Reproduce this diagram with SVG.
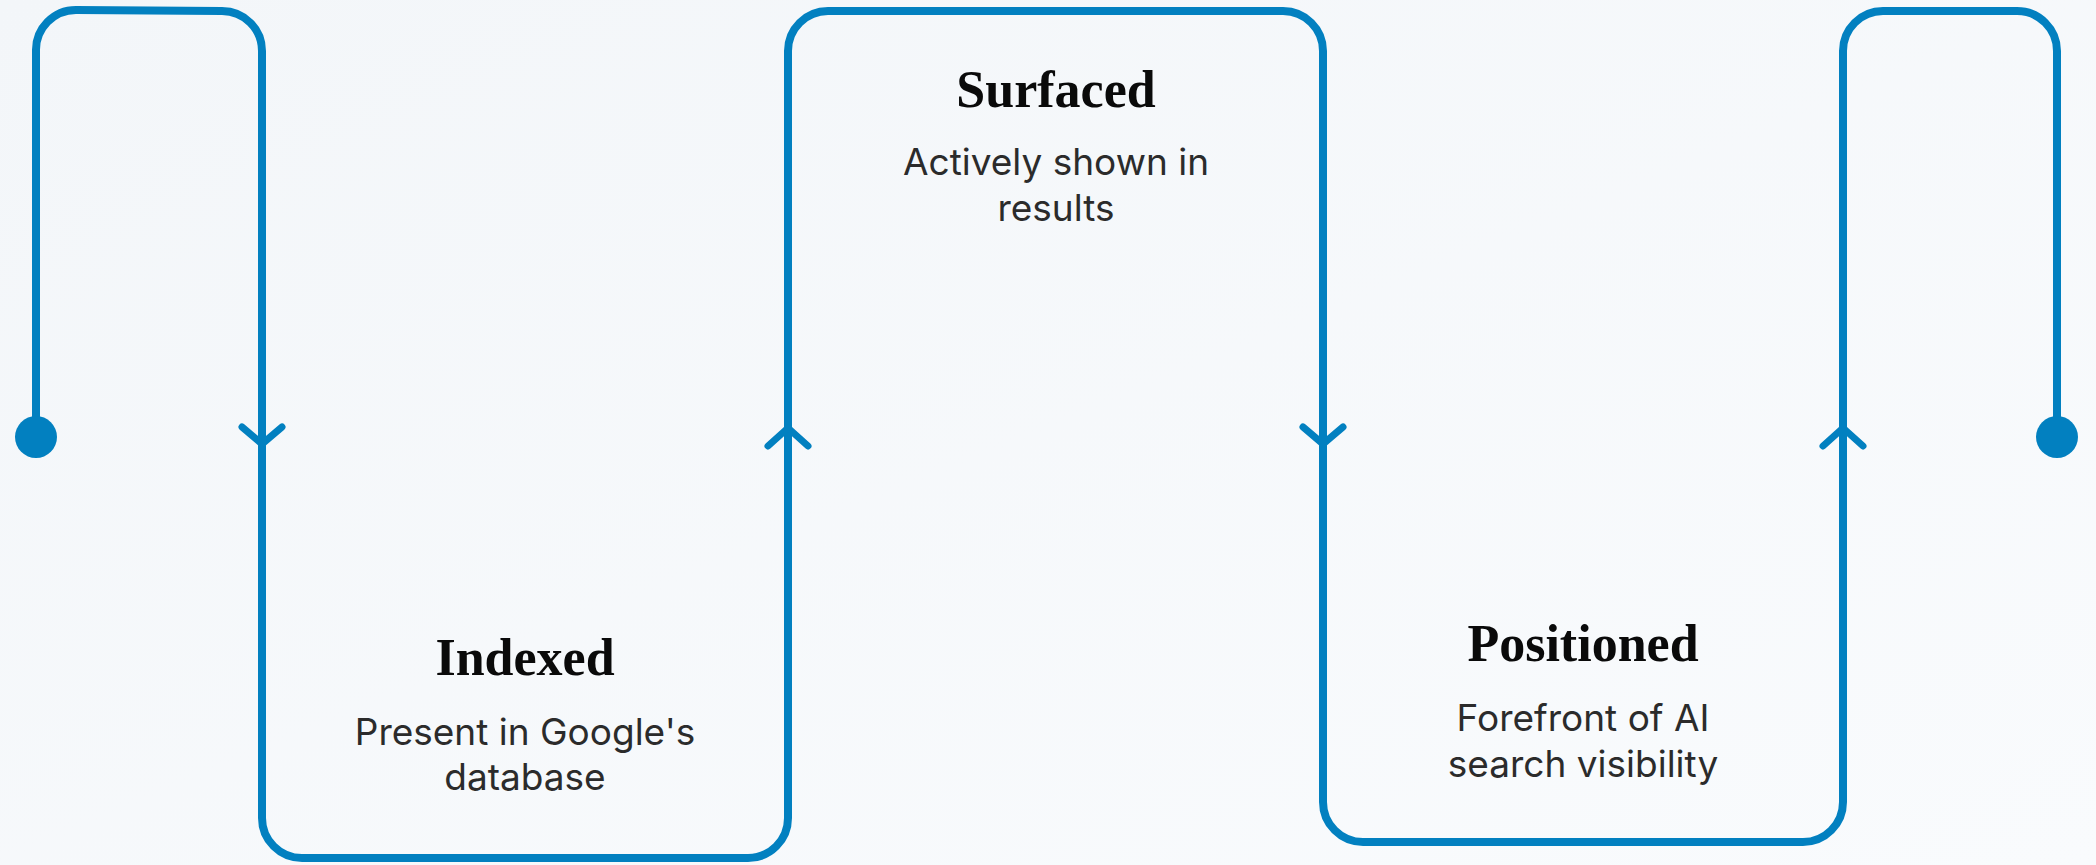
<svg xmlns="http://www.w3.org/2000/svg" width="2096" height="865" viewBox="0 0 2096 865">
  <defs>
    <linearGradient id="bg" x1="0" y1="0" x2="1" y2="1">
      <stop offset="0" stop-color="#f3f6f9"/>
      <stop offset="1" stop-color="#f9fbfd"/>
    </linearGradient>
    <style>
      .flow { fill: none; stroke: #0280c0; stroke-width: 8; stroke-linecap: round; stroke-linejoin: round; }
      .head { fill: none; stroke: #0280c0; stroke-width: 7; stroke-linecap: round; stroke-linejoin: round; }
      .dot { fill: #0280c0; }
      .title { font-family: "Liberation Serif", "DejaVu Serif", serif; font-weight: bold; font-size: 52px; fill: #0a0a0a; text-anchor: middle; }
      .sub { font-family: Inter, "Noto Sans", sans-serif; font-size: 37px; fill: #2b2b2b; text-anchor: middle; }
    </style>
  </defs>
  <rect width="2096" height="865" fill="url(#bg)"/>

  <g id="connectors">
    <path class="flow" d="M36,437 V51 A40,40 0 0 1 76,10 L222,11 A40,40 0 0 1 262,51 V818 A40,40 0 0 0 302,858 H748 A40,40 0 0 0 788,818 V51 A40,40 0 0 1 828,11 H1283 A40,40 0 0 1 1323,51 V802 A40,40 0 0 0 1363,842 H1803 A40,40 0 0 0 1843,802 V51 A40,40 0 0 1 1883,11 H2017 A40,40 0 0 1 2057,51 V437"/>
    <path class="head" d="M242,427 L262,444 L282,427"/>
    <path class="head" d="M768,446 L788,428 L808,446"/>
    <path class="head" d="M1303,427 L1323,444 L1343,427"/>
    <path class="head" d="M1823,446 L1843,428 L1863,446"/>
  </g>

  <g id="start">
    <circle class="dot" cx="36" cy="437" r="21"/>
  </g>

  <g id="indexed">
    <text class="title" x="525" y="675">Indexed</text>
    <text class="sub" x="525" y="745">Present in Google's</text>
    <text class="sub" x="525" y="790">database</text>
  </g>

  <g id="surfaced">
    <text class="title" x="1056" y="107">Surfaced</text>
    <text class="sub" x="1056" y="175">Actively shown in</text>
    <text class="sub" x="1056" y="221">results</text>
  </g>

  <g id="positioned">
    <text class="title" x="1583" y="661">Positioned</text>
    <text class="sub" x="1583" y="731">Forefront of AI</text>
    <text class="sub" x="1583" y="777">search visibility</text>
  </g>

  <g id="end">
    <circle class="dot" cx="2057" cy="437" r="21"/>
  </g>
</svg>
